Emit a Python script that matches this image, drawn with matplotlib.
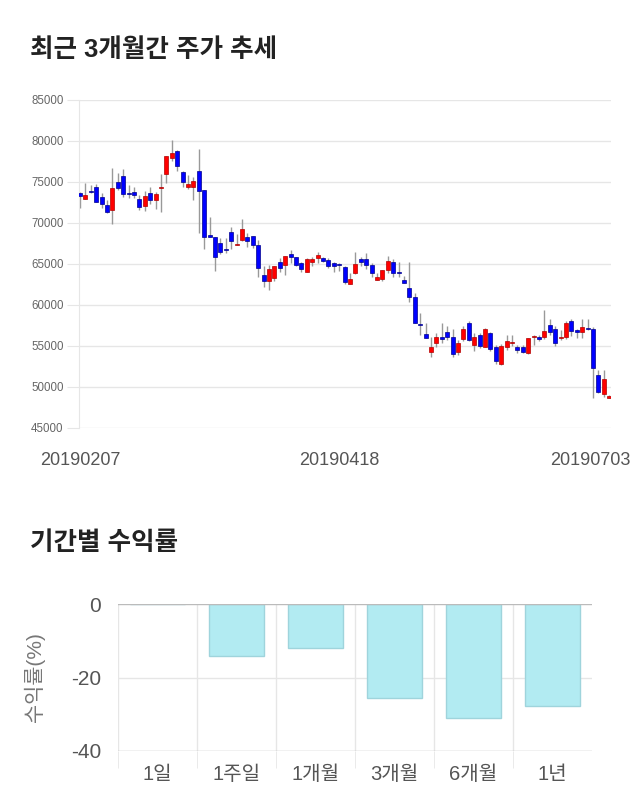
import numpy as np
import matplotlib
matplotlib.use("Agg")
import matplotlib.pyplot as plt
import matplotlib.transforms as mtransforms

plt.rcParams['font.family'] = ['Liberation Sans', 'Noto Sans CJK KR']

# daily candles, 20190207 .. 20190703
OPEN = [73700, 72900, 73900, 74400, 73150, 72200, 71600, 74950, 75700, 73600,
        73750, 72900, 72100, 73600, 72750, 74250, 75950, 77900, 78800, 76200,
        74450, 74450, 76350, 74000, 68400, 68350, 67550, 66800, 68950, 67300,
        67950, 68350, 68400, 67300, 63650, 62900, 63250, 65200, 64900, 66200,
        65800, 65100, 64050, 65300, 65700, 65700, 65500, 65100, 64950, 64600,
        62550, 63950, 65600, 65600, 64900, 63050, 63150, 64250, 65200, 63950,
        63050, 62050, 60950, 57550, 56450, 54300, 55350, 56050, 56700, 56100,
        54250, 55850, 57800, 55100, 56400, 54900, 56550, 54850, 52800, 54850,
        55400, 54900, 54850, 54100, 56050, 56050, 56150, 57550, 57050, 56000,
        56150, 58050, 56950, 56650, 57150, 57050, 51450, 49100, 48700]
HIGH = [73800, 74900, 74600, 74800, 73600, 72800, 76700, 76050, 76550, 74600,
        74400, 73400, 73900, 74400, 73800, 75950, 78200, 80100, 78850, 76300,
        75850, 75650, 79000, 74000, 70700, 68350, 68150, 68150, 69500, 68650,
        70450, 68750, 68400, 67950, 64750, 64900, 64800, 65700, 66000, 66650,
        65900, 65300, 65700, 65900, 66450, 65900, 65700, 65200, 65100, 64700,
        63850, 66500, 65900, 66300, 65100, 63900, 64300, 65950, 65600, 65200,
        63550, 65200, 61500, 59000, 57800, 56150, 56550, 57800, 57450, 57050,
        55750, 57450, 58000, 56550, 56550, 57150, 56700, 55100, 55200, 56350,
        56350, 55100, 55100, 56000, 56350, 56400, 59400, 58350, 57450, 56950,
        58000, 58300, 57100, 58300, 58300, 57350, 52050, 52050, 49000]
LOW = [71800, 72900, 73600, 72500, 71800, 71200, 69900, 74000, 73200, 73050,
       73000, 71600, 71450, 72300, 71700, 71300, 74900, 77500, 76300, 74450,
       74100, 72800, 68750, 66800, 68350, 64150, 66200, 66300, 66800, 67300,
       67800, 67050, 67000, 63450, 62250, 61850, 62950, 64050, 63650, 65100,
       64700, 64050, 64050, 64700, 65150, 65300, 64500, 64000, 64200, 62550,
       62550, 63750, 64700, 64350, 63400, 63050, 62950, 63900, 63450, 63450,
       62700, 60400, 57850, 56350, 55950, 53700, 54900, 55350, 55700, 53700,
       53900, 55650, 55600, 54450, 54800, 54850, 54350, 52800, 52700, 54500,
       54950, 54200, 54200, 54050, 55150, 55600, 55850, 56350, 55000, 55750,
       55900, 56200, 56000, 56000, 56950, 48700, 49250, 48800, 48700]
CLOSE = [73300, 73400, 73800, 72500, 72300, 71400, 74250, 74300, 73500, 73500,
         73400, 72000, 73350, 72800, 73500, 74350, 78150, 78500, 76900, 74950,
         74750, 75100, 73850, 68350, 68350, 65900, 66500, 66650, 67800, 67400,
         69250, 67800, 67300, 64550, 62900, 64350, 64750, 64500, 66000, 65800,
         64900, 64350, 65600, 65600, 66100, 65400, 64800, 64750, 64900, 62850,
         63150, 64950, 65200, 64900, 63900, 63450, 64250, 65400, 63900, 63900,
         62700, 61000, 57850, 57500, 55950, 54900, 56050, 55850, 56100, 54050,
         55350, 57050, 55750, 56050, 55050, 57100, 54600, 53150, 55000, 55650,
         55450, 54500, 54250, 55950, 56100, 55850, 56800, 56700, 55400, 56100,
         57800, 56850, 56650, 57350, 57050, 52300, 49450, 50950, 48950]
DATE_TICKS = [0, 48, 98]
DATE_LABELS = ["20190207", "20190418", "20190703"]
PRICE_TICKS = [45000, 50000, 55000, 60000, 65000, 70000, 75000, 80000, 85000]

PERIODS = ["1일", "1주일", "1개월", "3개월", "6개월", "1년"]
RETURNS = [0.0, -14.1, -11.9, -25.5, -31.0, -27.7]

GRID = "#e6e6e6"

fig = plt.figure(figsize=(6.4, 8.1), dpi=100)

fig.text(30 / 640, 1 - 50 / 810, "최근 3개월간 주가 추세", fontsize=18.4,
         fontweight="bold", color="#222222", va="center", ha="left")
fig.text(30 / 640, 1 - 543 / 810, "기간별 수익률", fontsize=18.4,
         fontweight="bold", color="#222222", va="center", ha="left")

# --- candles
ax = fig.add_axes([79 / 640, 1 - 428 / 810, 532 / 640, 328 / 810])
o = np.array(OPEN); h = np.array(HIGH); l = np.array(LOW); c = np.array(CLOSE)
x = np.arange(len(o))
up = c > o
face = np.where(up, "#ff0000", "#0000ff")
edge = np.where(up, "#b00000", "#00008b")
ax.vlines(x, l, h, color="#999999", lw=1, zorder=2)
ax.bar(x, np.maximum(np.abs(c - o), 130), bottom=np.minimum(o, c), width=0.74,
       color=face, edgecolor=edge, linewidth=0.5, zorder=3)

ax.set_xlim(-0.19, 98.33)
ax.set_ylim(45000, 85000)
ax.set_yticks(PRICE_TICKS)
ax.set_yticklabels([str(v) for v in PRICE_TICKS])
ax.grid(axis="y", color=GRID, lw=1, zorder=0)
for s in ["top", "right", "bottom"]:
    ax.spines[s].set_visible(False)
ax.spines["left"].set_color(GRID)
ax.tick_params(axis="y", length=9, color=GRID, labelsize=8.3, labelcolor="#666666", pad=2)
ax.set_xticks(DATE_TICKS)
ax.set_xticklabels(DATE_LABELS)
ax.tick_params(axis="x", length=0, labelsize=13, labelcolor="#555555", pad=17)
shift = mtransforms.ScaledTranslation(-19 / 100, 0, fig.dpi_scale_trans)
last = ax.get_xticklabels()[-1]
last.set_transform(last.get_transform() + shift)

# --- returns
bx = fig.add_axes([118 / 640, 1 - 751 / 810, 474 / 640, 147 / 810])
pos = np.arange(len(PERIODS))
bx.bar(pos, RETURNS, width=0.69, color="#b2ebf2", edgecolor="#9fd4dc",
       linewidth=1, zorder=3)
bx.set_xlim(-0.5, len(PERIODS) - 0.5)
bx.set_ylim(-40, 0)
for s in bx.spines.values():
    s.set_visible(False)
bx.axhline(0, color="#bbbbbb", lw=1, zorder=4)
bx.axhline(-20, color=GRID, lw=1, zorder=1)
bx.axhline(-40, color="#bbbbbb", lw=1, zorder=4)
bx.set_yticks([0, -20, -40])
bx.set_yticklabels(["0", "-20", "-40"])
bx.tick_params(axis="y", length=0, labelsize=15, labelcolor="#555555", pad=12)
bx.set_xticks(pos)
bx.set_xticklabels(PERIODS)
bx.set_xticks(np.arange(len(PERIODS)) - 0.5, minor=True)
bx.tick_params(axis="x", which="major", length=0, labelsize=14.5,
               labelcolor="#555555", pad=10)
bx.tick_params(axis="x", which="minor", length=12, color=GRID)
bx.grid(axis="x", which="minor", color=GRID, lw=1, zorder=0)
bx.set_ylabel("수익률(%)", fontsize=15, color="#777777")
bx.yaxis.set_label_coords(-0.155, 0.5)

fig.savefig("out.png", dpi=100)
